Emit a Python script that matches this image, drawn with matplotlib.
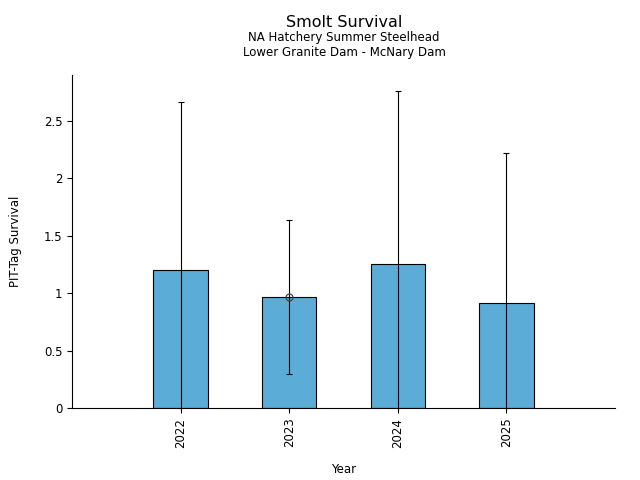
import matplotlib
matplotlib.use("Agg")
import matplotlib.pyplot as plt
import numpy as np

years = ["2022", "2023", "2024", "2025"]
survival = [1.202, 0.967, 1.254, 0.915]
upper = [2.666, 1.638, 2.761, 2.221]
lower = [-0.3, 0.296, -0.3, -0.3]

fig = plt.figure(figsize=(6.4, 4.8), dpi=100)
ax = fig.add_axes([0.1125, 0.15, 0.8485, 0.694])
x = np.arange(len(years))
ax.bar(x, survival, width=0.5, color="#5BACD6", edgecolor="black", linewidth=0.8, zorder=2)
s = np.array(survival)
yerr = np.vstack([s - np.array(lower), np.array(upper) - s])
ax.errorbar(x, s, yerr=yerr, fmt="none", ecolor="black", elinewidth=0.8, capsize=2.5, capthick=0.8, zorder=3)
ax.plot([x[1]], [s[1]], marker="o", markersize=5, markerfacecolor="none", markeredgecolor="#444444", markeredgewidth=0.9, zorder=4)
ax.set_xlim(-1, 4)
ax.set_ylim(0, 2.9)
ax.set_xticks(x)
ax.set_xticklabels(years, rotation=90, fontsize=8.5)
ax.set_yticks([0, 0.5, 1, 1.5, 2, 2.5])
ax.set_yticklabels(["0", "0.5", "1", "1.5", "2", "2.5"], fontsize=8.5)
ax.spines["top"].set_visible(False)
ax.spines["right"].set_visible(False)
ax.set_xlabel("Year", fontsize=8.5)
ax.set_ylabel("PIT-Tag Survival", fontsize=8.5)
ax.xaxis.set_label_coords(0.5, -0.165)
ax.yaxis.set_label_coords(-0.092, 0.5)
fig.text(0.5375, 0.953, "Smolt Survival", ha="center", va="center", fontsize=11.5)
fig.text(0.5375, 0.921, "NA Hatchery Summer Steelhead", ha="center", va="center", fontsize=8.5)
fig.text(0.5375, 0.891, "Lower Granite Dam - McNary Dam", ha="center", va="center", fontsize=8.5)
fig.savefig("out.png", dpi=100)
